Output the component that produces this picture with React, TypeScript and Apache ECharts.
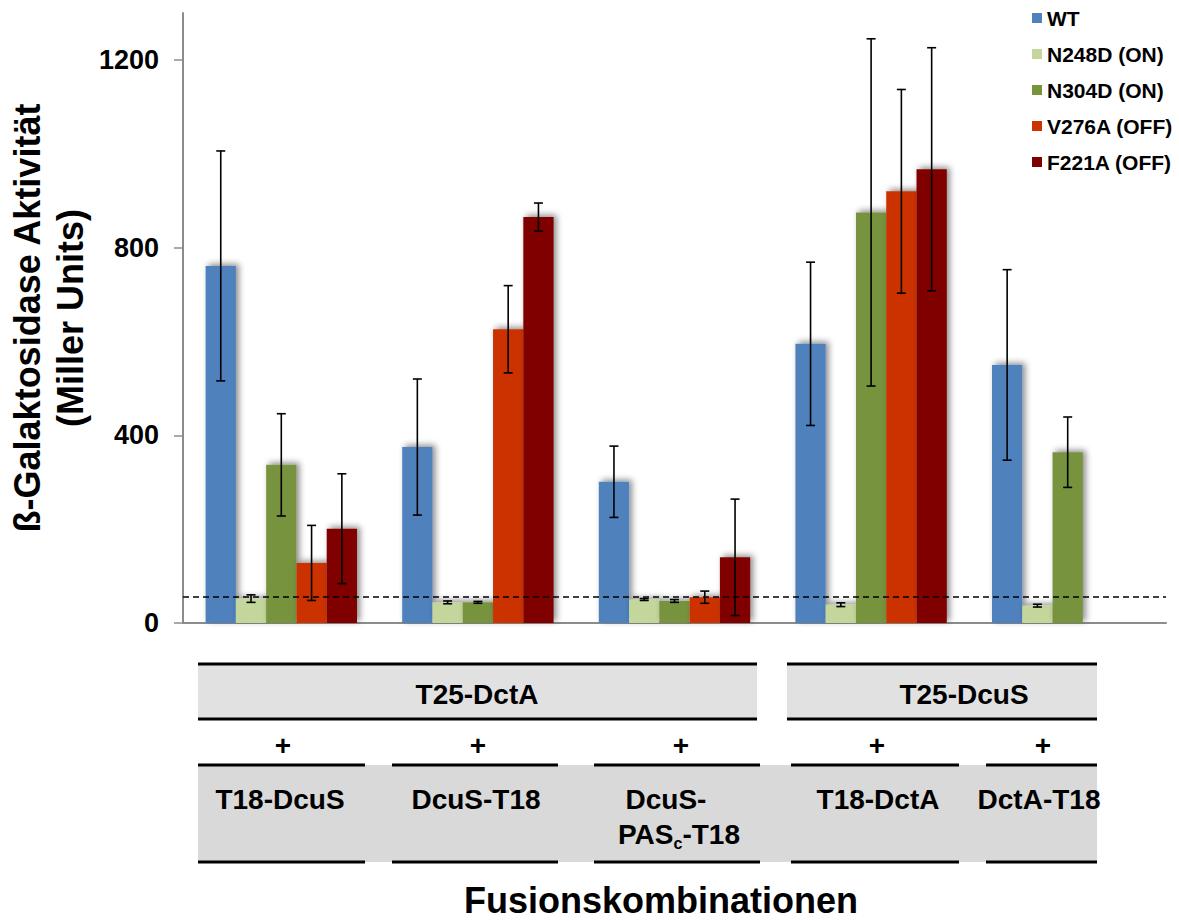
import React, { useEffect, useRef } from "react";
import * as echarts from "echarts";

const categories = ["T18-DcuS", "DcuS-T18", "DcuS-PASc-T18", "T18-DctA", "DctA-T18"];
const seriesNames = ["WT", "N248D (ON)", "N304D (ON)", "V276A (OFF)", "F221A (OFF)"];
const wtValues = [761, 375, 301, 595, 550];
const wtErrors = [245, 145, 76, 174, 203];
const n248dValues = [52, 44, 50, 39, 37];
const n248dErrors = [8, 3, 2, 4, 3];
const n304dValues = [337, 44, 47, 875, 364];
const n304dErrors = [109, 2, 3, 370, 75];
const v276aValues = [128, 626, 55, 920, null];
const v276aErrors = [80, 93, 13, 217, null];
const f221aValues = [201, 865, 140, 967, null];
const f221aErrors = [117, 30, 124, 259, null];
const baselineValue = 57;
const yTicks = [0, 400, 800, 1200];
const upperPartners = ["T25-DctA", "T25-DcuS"];
const yTitle = "ß-Galaktosidase Aktivität\n(Miller Units)";
const xTitle = "Fusionskombinationen";

const seriesValues = [wtValues, n248dValues, n304dValues, v276aValues, f221aValues];
const seriesErrors = [wtErrors, n248dErrors, n304dErrors, v276aErrors, f221aErrors];
const colors = ["#4F81BD", "#C3D69B", "#77933C", "#CC3300", "#800000"];

const FONT = "'Liberation Sans', Arial, sans-serif";
const BAR_FRAC = 0.154;

export default function App() {
  const ref = useRef<HTMLDivElement>(null);

  useEffect(() => {
    document.body.style.margin = "0";
    const chart = echarts.init(ref.current!, null, { renderer: "svg" });

    const barSeries = seriesNames.map((name, si) => ({
      type: "bar",
      name,
      data: seriesValues[si],
      barWidth: (BAR_FRAC * 100).toFixed(1) + "%",
      barGap: "0%",
      itemStyle: {
        color: colors[si],
        shadowColor: "rgba(0,0,0,0.45)",
        shadowBlur: 6,
        shadowOffsetX: 3,
        shadowOffsetY: -2,
      },
      z: 2,
      ...(si === 0
        ? {
            markLine: {
              silent: true,
              symbol: "none",
              label: { show: false },
              lineStyle: { color: "#000", type: [6, 4], width: 1.5 },
              data: [{ yAxis: baselineValue }],
              z: 6,
            },
          }
        : {}),
    }));

    const errSeries = seriesNames.map((name, si) => ({
      type: "custom",
      name: "err-" + name,
      z: 5,
      silent: true,
      encode: { x: 0, y: [1, 2] },
      data: seriesValues[si]
        .map((v, ci) =>
          v == null ? null : [ci, (v as number) - (seriesErrors[si][ci] as number), (v as number) + (seriesErrors[si][ci] as number)]
        )
        .filter((d) => d !== null),
      renderItem: (params: any, api: any) => {
        const ci = api.value(0);
        const lo = api.coord([ci, api.value(1)]);
        const hi = api.coord([ci, api.value(2)]);
        const band = api.size([1, 0])[0];
        const x = lo[0] + (si - 2) * band * BAR_FRAC;
        const cap = 4.5;
        const style = { stroke: "#000", lineWidth: 1.6 };
        return {
          type: "group",
          children: [
            { type: "line", shape: { x1: x, y1: hi[1], x2: x, y2: lo[1] }, style },
            { type: "line", shape: { x1: x - cap, y1: hi[1], x2: x + cap, y2: hi[1] }, style },
            { type: "line", shape: { x1: x - cap, y1: lo[1], x2: x + cap, y2: lo[1] }, style },
          ],
        };
      },
    }));

    const black = "#000";
    const lineW = 3;
    const hline = (x1: number, x2: number, y: number) => ({
      type: "line",
      shape: { x1, y1: y, x2, y2: y },
      style: { stroke: black, lineWidth: lineW },
      z: 10,
    });
    const txt = (x: number, y: number, text: string, size = 28, extra: any = {}) => ({
      type: "text",
      x,
      y,
      z: 11,
      style: {
        text,
        fill: black,
        fontSize: size,
        fontWeight: "bold",
        fontFamily: FONT,
        align: "center",
        verticalAlign: "middle",
        ...extra,
      },
    });

    const cells = [
      [198, 365],
      [392, 558],
      [594, 760],
      [791, 959],
      [986, 1097],
    ];
    const plusX = [283, 478, 681, 877, 1043];
    const cellTextX = [280, 476, 672, 878, 1039];

    const graphics: any[] = [
      { type: "rect", shape: { x: 198, y: 664, width: 559, height: 55 }, style: { fill: "#e1e1e1" }, z: 9 },
      { type: "rect", shape: { x: 787, y: 664, width: 310, height: 55 }, style: { fill: "#e1e1e1" }, z: 9 },
      hline(198, 757, 664),
      hline(198, 757, 719),
      hline(787, 1097, 664),
      hline(787, 1097, 719),
      txt(477, 694, upperPartners[0]),
      txt(964, 694, upperPartners[1]),
      { type: "rect", shape: { x: 198, y: 765, width: 899, height: 97 }, style: { fill: "#d9d9d9" }, z: 9 },
      ...cells.map(([a, b]) => hline(a, b, 765)),
      ...cells.map(([a, b]) => hline(a, b, 862)),
      ...plusX.map((x) => txt(x, 745, "+")),
      txt(cellTextX[0], 799, categories[0]),
      txt(cellTextX[1], 799, categories[1]),
      txt(666, 799, "DcuS-"),
      {
        type: "text",
        x: 679,
        y: 834,
        z: 11,
        style: {
          text: "{n|PAS}{s|c}{n|-T18}",
          align: "center",
          verticalAlign: "middle",
          fill: black,
          fontFamily: FONT,
          fontWeight: "bold",
          rich: {
            n: { fontSize: 28, lineHeight: 34, fontWeight: "bold", fontFamily: FONT, fill: black },
            s: { fontSize: 16, lineHeight: 14, verticalAlign: "bottom", fontWeight: "bold", fontFamily: FONT, fill: black },
          },
        },
      },
      txt(cellTextX[3], 799, categories[3]),
      txt(cellTextX[4], 799, categories[4]),
      txt(661, 900, xTitle, 36),
      {
        type: "text",
        x: 49,
        y: 318,
        rotation: Math.PI / 2,
        z: 11,
        style: {
          text: yTitle,
          fill: black,
          fontSize: 36,
          fontWeight: "bold",
          fontFamily: FONT,
          lineHeight: 43,
          align: "center",
          verticalAlign: "middle",
        },
      },
    ];

    chart.setOption({
      animation: false,
      backgroundColor: "#fff",
      textStyle: { fontFamily: FONT },
      grid: { left: 183, right: 13, top: 13, bottom: 298 },
      legend: {
        orient: "vertical",
        left: 1032,
        top: 7,
        padding: 0,
        itemWidth: 10,
        itemHeight: 10,
        itemGap: 14,
        icon: "rect",
        data: seriesNames,
        itemStyle: { shadowBlur: 0, shadowOffsetX: 0, shadowOffsetY: 0 },
        textStyle: { fontSize: 21, fontWeight: "bold", color: "#000", fontFamily: FONT, lineHeight: 22 },
      },
      xAxis: {
        type: "category",
        data: categories,
        axisLine: { lineStyle: { color: "#8c8c8c", width: 2 } },
        axisTick: { show: false },
        axisLabel: { show: false },
      },
      yAxis: {
        type: "value",
        min: 0,
        max: 1300,
        interval: 400,
        axisLine: { show: true, lineStyle: { color: "#8c8c8c", width: 2 } },
        axisTick: { show: true, length: 9, lineStyle: { color: "#8c8c8c", width: 1.5 }, customValues: yTicks },
        splitLine: { show: false },
        axisLabel: {
          customValues: yTicks,
          formatter: (v: number) => String(v),
          fontSize: 27,
          fontWeight: "bold",
          color: "#000",
          fontFamily: FONT,
          margin: 24,
        },
      },
      series: [...barSeries, ...errSeries],
      graphic: graphics,
    });

    return () => chart.dispose();
  }, []);

  return <div ref={ref} style={{ width: 1179, height: 921 }} />;
}
